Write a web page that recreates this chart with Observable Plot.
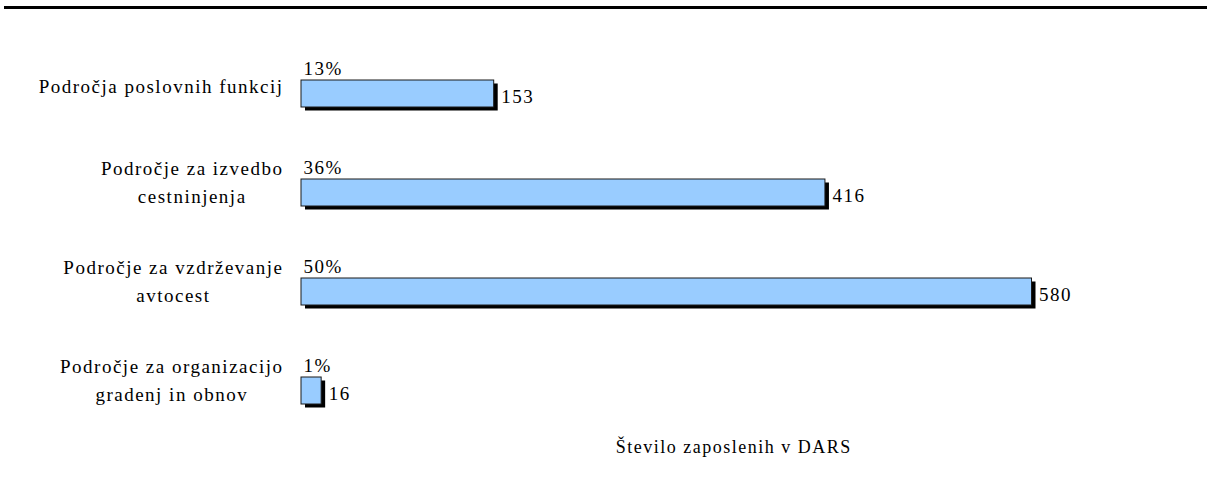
<!DOCTYPE html>
<html>
<head>
<meta charset="utf-8">
<script src="https://cdn.jsdelivr.net/npm/d3@7"></script>
<script src="https://cdn.jsdelivr.net/npm/@observablehq/plot@0.6"></script>
<style>
  html, body { margin: 0; padding: 0; background: #fff; overflow: hidden; }
  #wrap { position: relative; width: 1207px; height: 483px; }
  #topline { position: absolute; left: 4px; top: 6px; width: 1203px; height: 3px; background: #000; }
  #chart { position: absolute; left: 0; top: 0; }
</style>
</head>
<body>
<div id="wrap">
  <div id="chart"></div>
  <div id="topline"></div>
</div>
<script>
const categories = [
  "Področja poslovnih funkcij",
  "Področje za izvedbo\ncestninjenja",
  "Področje za vzdrževanje\navtocest",
  "Področje za organizacijo\ngradenj in obnov"
];
const values = [153, 416, 580, 16];
const percents = ["13%", "36%", "50%", "1%"];
const caption = "Število zaposlenih v DARS";

const data = categories.map((c, i) => ({cat: c, value: values[i], pct: percents[i]}));
const singleLine = categories.filter(c => !c.includes("\n"));
const multiLine = categories.filter(c => c.includes("\n"));

const FONT = "'Liberation Serif', 'Times New Roman', serif";
const FS = 19;

const chart = Plot.plot({
  width: 1207,
  height: 483,
  marginLeft: 301,
  marginRight: 175.5,
  marginTop: 44,
  marginBottom: 43,
  style: {fontFamily: FONT, fontSize: FS + "px", color: "#000", background: "#fff", letterSpacing: "1.5px"},
  x: {domain: [0, 580], axis: null},
  y: {domain: categories, paddingInner: 0.727, paddingOuter: 0.3635, axis: null, label: null},
  marks: [
    Plot.barX(data, {y: "cat", x: "value", fill: "#000", dx: 4, dy: 3.5}),
    Plot.barX(data, {y: "cat", x: "value", fill: "#99CCFF", stroke: "#1a1a1a", strokeWidth: 1}),
    Plot.axisY(singleLine, {anchor: "left", label: null, tickSize: 0, tickPadding: 18, dy: -7.5, fontSize: FS, textAnchor: "end"}),
    Plot.axisY(multiLine, {anchor: "left", label: null, tickSize: 0, tickPadding: 18, dy: -12.5, lineHeight: 1.47, fontSize: FS, textAnchor: "end"}),
    Plot.text(data, {y: "cat", x: 0, text: "pct", dx: 2, dy: -25.3, textAnchor: "start", lineAnchor: "middle", fontSize: FS, fill: "#000"}),
    Plot.text(data, {y: "cat", x: "value", text: d => String(d.value), dx: 7, dy: 2.5, textAnchor: "start", lineAnchor: "middle", fontSize: FS, fill: "#000"}),
    Plot.text([caption], {frameAnchor: "bottom", text: d => d, dx: 67, dy: 7, textAnchor: "middle", lineAnchor: "middle", fontSize: 18, fill: "#000"})
  ]
});
document.getElementById("chart").appendChild(chart);

// center each line of multi-line y labels (as in the reference)
chart.querySelectorAll('g[aria-label="y-axis tick label"] text').forEach(t => {
  const spans = t.querySelectorAll("tspan");
  if (spans.length > 1) {
    let W = 0;
    spans.forEach(s => { W = Math.max(W, s.getComputedTextLength()); });
    t.setAttribute("text-anchor", "middle");
    spans.forEach(s => {
      const x0 = +(s.getAttribute("x") || 0);
      s.setAttribute("x", x0 - W / 2);
    });
  }
});
</script>
</body>
</html>
